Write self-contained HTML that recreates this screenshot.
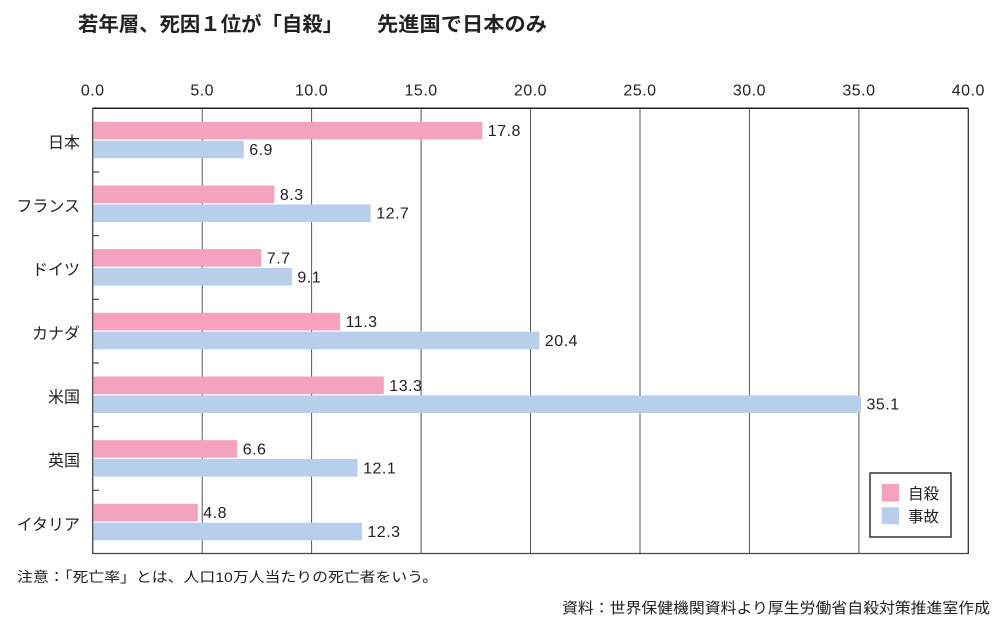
<!DOCTYPE html>
<html><head><meta charset="utf-8"><style>
html,body{margin:0;padding:0;background:#fff;}
svg{display:block;}
text{fill:#222;}
.cjk{font-family:"Liberation Sans","Noto Sans CJK JP",sans-serif;}
.num{font-family:"Liberation Sans","DejaVu Sans",sans-serif;font-size:16px;letter-spacing:0.5px;}
</style></head><body>
<svg width="1008" height="629" viewBox="0 0 1008 629" xmlns="http://www.w3.org/2000/svg">
<rect width="1008" height="629" fill="#fff"/>
<!-- title -->
<text class="cjk" x="78" y="31" font-size="20" font-weight="bold" textLength="265" lengthAdjust="spacingAndGlyphs">若年層、死因１位が「自殺」</text>
<text class="cjk" x="377" y="31" font-size="20" font-weight="bold" textLength="170" lengthAdjust="spacingAndGlyphs">先進国で日本のみ</text>

<!-- gridlines -->
<g stroke="#555" stroke-width="1">
<line x1="202.2" y1="108.3" x2="202.2" y2="554"/>
<line x1="311.6" y1="108.3" x2="311.6" y2="554"/>
<line x1="421.1" y1="108.3" x2="421.1" y2="554"/>
<line x1="530.5" y1="108.3" x2="530.5" y2="554"/>
<line x1="640.0" y1="108.3" x2="640.0" y2="554"/>
<line x1="749.4" y1="108.3" x2="749.4" y2="554"/>
<line x1="858.9" y1="108.3" x2="858.9" y2="554"/>
</g>
<!-- frame -->
<line x1="92.7" y1="108.3" x2="968.3" y2="108.3" stroke="#222" stroke-width="1.5"/>
<line x1="968.3" y1="108.3" x2="968.3" y2="554" stroke="#333" stroke-width="1.3"/>
<line x1="92.7" y1="553.5" x2="968.3" y2="553.5" stroke="#444" stroke-width="1.3"/>
<line x1="92.7" y1="108.3" x2="92.7" y2="554" stroke="#555" stroke-width="1.5"/>
<!-- ticks -->
<g stroke="#444" stroke-width="1.2">
<line x1="92.7" y1="172.0" x2="99" y2="172.0"/>
<line x1="92.7" y1="235.6" x2="99" y2="235.6"/>
<line x1="92.7" y1="299.3" x2="99" y2="299.3"/>
<line x1="92.7" y1="363.0" x2="99" y2="363.0"/>
<line x1="92.7" y1="426.6" x2="99" y2="426.6"/>
<line x1="92.7" y1="490.3" x2="99" y2="490.3"/>
</g>

<!-- axis labels -->
<g class="num" text-anchor="middle">
<text x="92.7" y="95.5">0.0</text>
<text x="202.2" y="95.5">5.0</text>
<text x="311.6" y="95.5">10.0</text>
<text x="421.1" y="95.5">15.0</text>
<text x="530.5" y="95.5">20.0</text>
<text x="640.0" y="95.5">25.0</text>
<text x="749.4" y="95.5">30.0</text>
<text x="858.9" y="95.5">35.0</text>
<text x="968.3" y="95.5">40.0</text>
</g>

<!-- bars -->
<g>
<rect x="93.4" y="121.8" width="388.9" height="17.6" fill="#f4a2be"/>
<rect x="93.4" y="140.7" width="150.3" height="17.6" fill="#b8cfeb"/>
<rect x="93.4" y="185.5" width="181.0" height="17.6" fill="#f4a2be"/>
<rect x="93.4" y="204.4" width="277.3" height="17.6" fill="#b8cfeb"/>
<rect x="93.4" y="249.1" width="167.9" height="17.6" fill="#f4a2be"/>
<rect x="93.4" y="268.0" width="198.5" height="17.6" fill="#b8cfeb"/>
<rect x="93.4" y="312.8" width="246.7" height="17.6" fill="#f4a2be"/>
<rect x="93.4" y="331.7" width="445.9" height="17.6" fill="#b8cfeb"/>
<rect x="93.4" y="376.5" width="290.4" height="17.6" fill="#f4a2be"/>
<rect x="93.4" y="395.4" width="767.6" height="17.6" fill="#b8cfeb"/>
<rect x="93.4" y="440.1" width="143.8" height="17.6" fill="#f4a2be"/>
<rect x="93.4" y="459.0" width="264.2" height="17.6" fill="#b8cfeb"/>
<rect x="93.4" y="503.8" width="104.4" height="17.6" fill="#f4a2be"/>
<rect x="93.4" y="522.7" width="268.5" height="17.6" fill="#b8cfeb"/>
</g>

<!-- value labels -->
<g class="num">
<text x="487.8" y="136.1">17.8</text>
<text x="249.2" y="155.0">6.9</text>
<text x="279.9" y="199.8">8.3</text>
<text x="376.2" y="218.7">12.7</text>
<text x="266.8" y="263.4">7.7</text>
<text x="297.4" y="282.3">9.1</text>
<text x="345.6" y="327.1">11.3</text>
<text x="544.8" y="346.0">20.4</text>
<text x="389.3" y="390.8">13.3</text>
<text x="866.5" y="409.7">35.1</text>
<text x="242.7" y="454.4">6.6</text>
<text x="363.1" y="473.3">12.1</text>
<text x="203.3" y="518.1">4.8</text>
<text x="367.4" y="537.0">12.3</text>
</g>

<!-- category labels -->
<g class="cjk" font-size="16" text-anchor="end">
<text x="80" y="147.8">日本</text>
<text x="80" y="211.5">フランス</text>
<text x="80" y="275.1">ドイツ</text>
<text x="80" y="338.8">カナダ</text>
<text x="80" y="402.5">米国</text>
<text x="80" y="466.1">英国</text>
<text x="80" y="529.8">イタリア</text>
</g>

<!-- legend -->
<rect x="870" y="473" width="81" height="64" fill="#fff" stroke="#333" stroke-width="1.5"/>
<rect x="881.7" y="484" width="17.3" height="17.6" fill="#f4a2be"/>
<rect x="881.7" y="507.3" width="17.3" height="17" fill="#b8cfeb"/>
<text class="cjk" x="908" y="498.8" font-size="15.5">自殺</text>
<text class="cjk" x="908" y="521.8" font-size="15.5">事故</text>

<!-- footers -->
<text class="cjk" x="17" y="582" font-size="14" textLength="421" lengthAdjust="spacingAndGlyphs">注意：「死亡率」とは、人口10万人当たりの死亡者をいう。</text>
<text class="cjk" x="562" y="613" font-size="15" textLength="428" lengthAdjust="spacingAndGlyphs">資料：世界保健機関資料より厚生労働省自殺対策推進室作成</text>
</svg>
</body></html>
